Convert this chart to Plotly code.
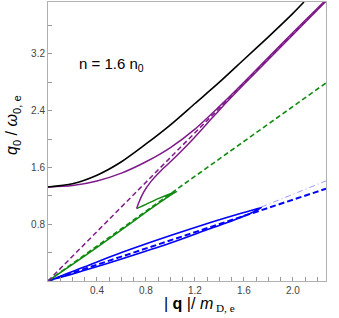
import plotly.graph_objects as go

# ---- data ----
black_q = [0.0, 0.2, 0.4, 0.6, 0.8, 1.0, 1.2, 1.4, 1.6, 1.8, 2.0, 2.09]
black_w = [1.325, 1.37, 1.49, 1.68, 1.93, 2.20, 2.50, 2.80, 3.12, 3.44, 3.77, 3.93]

purple_up_q = [0.0, 0.2, 0.4, 0.6, 0.8, 1.0, 1.2, 1.4, 1.6, 1.8, 2.0, 2.27]
purple_up_w = [1.325, 1.345, 1.41, 1.52, 1.68, 1.88, 2.14, 2.46, 2.80, 3.15, 3.50, 3.96]

purple_lo_q = [0.724, 0.74, 0.78, 0.84, 0.92, 1.0, 1.1, 1.2, 1.3, 1.4, 1.6, 1.8, 2.0, 2.27]
purple_lo_w = [1.02, 1.10, 1.25, 1.40, 1.55, 1.68, 1.85, 2.03, 2.22, 2.41, 2.77, 3.12, 3.47, 3.94]

purple_dash_q = [0.0, 2.27]
purple_dash_w = [0.0, 3.95]

green_q = [0.0, 0.2, 0.4, 0.6, 0.8, 0.95, 1.03, 1.05, 1.0, 0.9, 0.8, 0.75, 0.724]
green_w = [0.0, 0.235, 0.475, 0.72, 0.97, 1.15, 1.24, 1.26, 1.23, 1.16, 1.08, 1.04, 1.02]

green_dash_q = [0.0, 2.27]
green_dash_w = [0.0, 2.79]

blue_q = [0.0, 0.3, 0.6, 1.0, 1.32, 1.57, 1.70, 1.743, 1.72, 1.65, 1.5, 1.32, 1.0, 0.6, 0.3, 0.0]
blue_w = [0.0, 0.20, 0.40, 0.64, 0.82, 0.95, 1.015, 1.035, 1.01, 0.95, 0.845, 0.735, 0.535, 0.31, 0.15, 0.0]

blue_dash_q = [0.0, 2.27]
blue_dash_w = [0.0, 1.30]

blue_dd_q = [1.74, 2.27]
blue_dd_w = [1.04, 1.41]

x_ticks = [0.4, 0.8, 1.2, 1.6, 2.0]
y_ticks = [0.8, 1.6, 2.4, 3.2]

fig = go.Figure()

def add(q, w, color, width, dash="solid", shape="spline"):
    fig.add_trace(go.Scatter(x=q, y=w, mode="lines",
                             line=dict(color=color, width=width, dash=dash, shape=shape,
                                       smoothing=0.8 if shape == "spline" else None),
                             showlegend=False, hoverinfo="skip"))

add(blue_dd_q, blue_dd_w, "#9a9aff", 1, dash="6px,3px,1px,3px", shape="linear")
add(blue_dash_q, blue_dash_w, "#0000ff", 2, dash="6px,3px", shape="linear")
add(blue_q, blue_w, "#0000ff", 1.6)
add(green_dash_q, green_dash_w, "#108a10", 1.6, dash="5px,3px", shape="linear")
add(green_q, green_w, "#108a10", 1.5)
add(purple_dash_q, purple_dash_w, "#7f1a8a", 1.5, dash="5px,3px", shape="linear")
add(purple_lo_q, purple_lo_w, "#7f1a8a", 1.5)
add(purple_up_q, purple_up_w, "#7f1a8a", 1.5)
add(black_q, black_w, "#000000", 1.6)

axis_common = dict(showline=True, mirror=True, linecolor="#b0b0b0", linewidth=1,
                   ticks="inside", ticklen=4, tickcolor="#999999", showgrid=False,
                   zeroline=False, tickfont=dict(family="Liberation Sans, Arial", size=10, color="#444444"))

fig.update_xaxes(range=[0, 2.27], tickmode="array", tickvals=x_ticks,
                 ticktext=[f"{v:.1f}" for v in x_ticks],
                 minor=dict(tickmode="linear", tick0=0, dtick=0.1, ticks="inside", ticklen=4,
                            tickcolor="#999999", showgrid=False),
                 **axis_common)
fig.update_yaxes(range=[0, 3.93], tickmode="array", tickvals=y_ticks,
                 ticktext=[f"{v:.1f}" for v in y_ticks],
                 minor=dict(tickmode="linear", tick0=0, dtick=0.4, ticks="inside", ticklen=4,
                            tickcolor="#999999", showgrid=False),
                 **axis_common)

fig.update_layout(
    width=339, height=318,
    margin=dict(l=48, r=13, t=2, b=37),
    plot_bgcolor="white", paper_bgcolor="white",
    annotations=[
        dict(text="n = 1.6 n<sub>0</sub>", x=0.105, y=0.775, xref="paper", yref="paper",
             xanchor="left", yanchor="middle", showarrow=False,
             font=dict(family="Liberation Sans, Arial", size=15, color="#000")),
        dict(text="<i>q</i><sub>0</sub> / <i>ω</i><sub>0, e</sub>", x=-0.125, y=0.56,
             xref="paper", yref="paper", textangle=-90, showarrow=False,
             xanchor="center", yanchor="middle",
             font=dict(family="Liberation Sans, Arial", size=16, color="#000")),
        dict(text="| <b>q</b> |/ <i>m</i><span style='font-family:Liberation Serif'><sub> D, e</sub></span>",
             x=0.545, y=-0.085, xref="paper", yref="paper", showarrow=False,
             xanchor="center", yanchor="middle",
             font=dict(family="Liberation Sans, Arial", size=16, color="#000")),
    ],
)

fig.write_html("out.html", config={"displayModeBar": False},
               post_script="document.body.style.margin='0px';")
